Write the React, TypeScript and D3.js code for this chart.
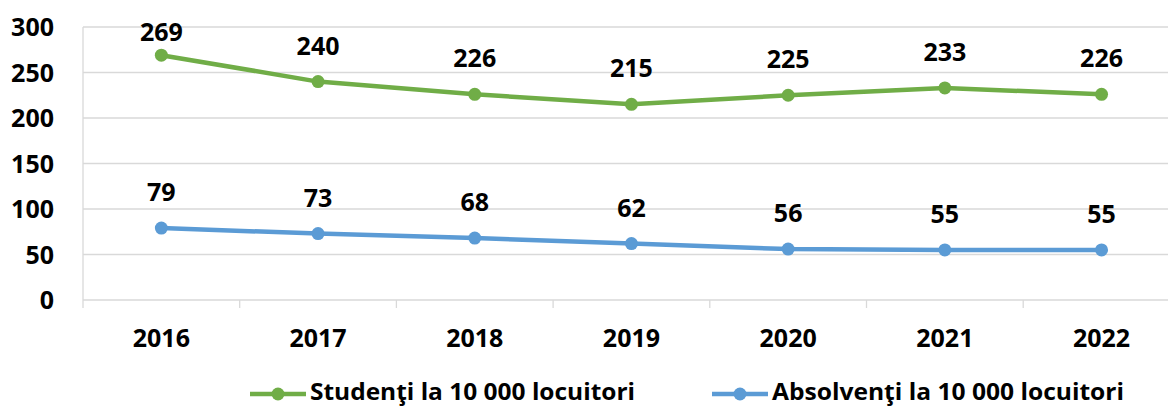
import React, { useEffect } from "react";
import * as d3 from "d3";

const years = ["2016", "2017", "2018", "2019", "2020", "2021", "2022"];
const studenti = [269, 240, 226, 215, 225, 233, 226];
const absolventi = [79, 73, 68, 62, 56, 55, 55];
const yTicks = [0, 50, 100, 150, 200, 250, 300];
const seriesNames = ["Studenţi la 10 000 locuitori", "Absolvenţi la 10 000 locuitori"];
const seriesColors = ["#70AD47", "#5B9BD5"];

const W = 1168;
const H = 408;
const left = 83;
const step = 156.7;
const right = left + step * years.length;
const top = 27;
const bottom = 300;
const FONT = "'Open Sans', 'Noto Sans', sans-serif";
const FS = 25;

export default function App() {
  useEffect(() => {
    document.body.style.margin = "0";
  }, []);

  const x = d3.scaleBand<string>().domain(years).range([left, right]).padding(0);
  const y = d3.scaleLinear().domain([0, 300]).range([bottom, top]);
  const cx = (d: string) => (x(d) as number) + x.bandwidth() / 2;
  const line = d3
    .line<number>()
    .x((_, i) => cx(years[i]))
    .y((v) => y(v));

  const series = [studenti, absolventi];
  const boundaries = d3.range(years.length + 1).map((i) => left + i * x.bandwidth());

  return (
    <svg width={W} height={H} style={{ display: "block", fontFamily: FONT }}>
      <rect width={W} height={H} fill="#fff" />
      {yTicks.map((t) =>
        t === 0 ? null : (
          <line key={t} x1={left} x2={right} y1={y(t)} y2={y(t)} stroke="#D9D9D9" strokeWidth={1.3} />
        )
      )}
      <line x1={left} x2={left} y1={top} y2={bottom} stroke="#D9D9D9" strokeWidth={1.3} />
      <line x1={left} x2={right} y1={bottom} y2={bottom} stroke="#D9D9D9" strokeWidth={1.3} />
      {boundaries.map((bx, i) => (
        <line key={i} x1={bx} x2={bx} y1={bottom} y2={bottom + 8} stroke="#D9D9D9" strokeWidth={1.3} />
      ))}
      {yTicks.map((t) => (
        <text key={t} x={54} y={y(t) + 9} textAnchor="end" fontSize={FS} fontWeight={700} fill="#000">
          {t}
        </text>
      ))}
      {years.map((yr) => (
        <text key={yr} x={cx(yr)} y={347} textAnchor="middle" fontSize={FS} fontWeight={700} fill="#000">
          {yr}
        </text>
      ))}
      {series.map((vals, si) => (
        <g key={si}>
          <path d={line(vals) as string} fill="none" stroke={seriesColors[si]} strokeWidth={4.5} strokeLinejoin="round" />
          {vals.map((v, i) => (
            <circle key={i} cx={cx(years[i])} cy={y(v)} r={6.5} fill={seriesColors[si]} />
          ))}
          {vals.map((v, i) => (
            <text
              key={"l" + i}
              x={cx(years[i])}
              y={Math.max(y(v) - 36, 32) + 9}
              textAnchor="middle"
              fontSize={FS}
              fontWeight={700}
              fill="#000"
            >
              {v}
            </text>
          ))}
        </g>
      ))}
      {[
        { lx: 250, tx: 310, tw: 325 },
        { lx: 712, tx: 772, tw: 352 },
      ].map((lg, si) => (
        <g key={si}>
          <line x1={lg.lx} x2={lg.lx + 56} y1={394} y2={394} stroke={seriesColors[si]} strokeWidth={4.5} />
          <circle cx={lg.lx + 28} cy={394} r={6.5} fill={seriesColors[si]} />
          <text
            x={lg.tx}
            y={400}
            fontSize={FS - 1}
            fontWeight={700}
            fill="#000"
            textLength={lg.tw}
            lengthAdjust="spacingAndGlyphs"
          >
            {seriesNames[si]}
          </text>
        </g>
      ))}
    </svg>
  );
}
